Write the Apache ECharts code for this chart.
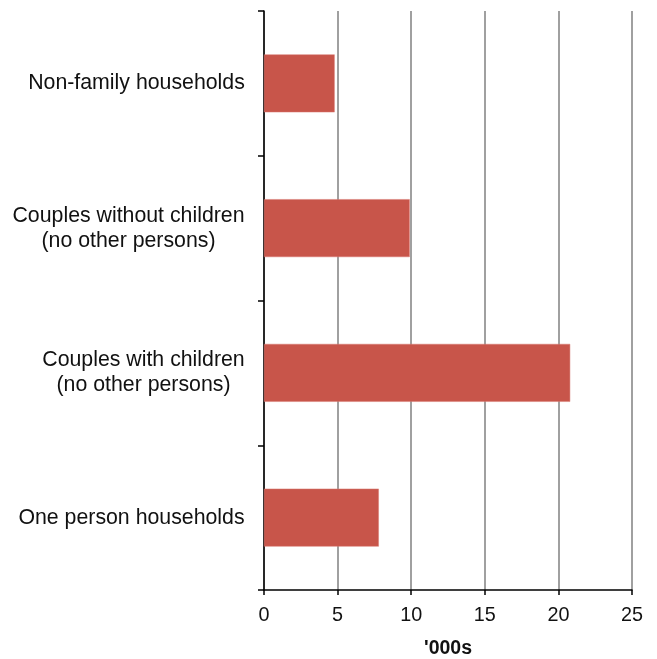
<!DOCTYPE html>
<html>
<head>
<meta charset="utf-8">
<script src="https://cdn.jsdelivr.net/npm/echarts@6/dist/echarts.min.js"></script>
<style>
html,body{margin:0;padding:0;background:#fff;}
#chart{width:657px;height:659px;}
</style>
</head>
<body>
<div id="chart"></div>
<script>
// Categories listed bottom-to-top (ECharts y category axis order)
const categories = [
  "One person households",
  "Couples with children\n(no other persons)",
  "Couples without children\n(no other persons)",
  "Non-family households"
];
const values = [7.8, 20.8, 9.9, 4.8];
const xTicks = [0, 5, 10, 15, 20, 25];
const xAxisTitle = "'000s";

const FONT = 'Liberation Sans, Arial, sans-serif';
const labelSize = 21.3;

// measure each label's widest line so lines can be centred within a right-aligned block
const cv = document.createElement('canvas').getContext('2d');
cv.font = labelSize + 'px ' + FONT;
const rich = {};
categories.forEach((c, i) => {
  const w = Math.max(...c.split('\n').map(s => cv.measureText(s).width));
  rich['l' + i] = {width: Math.ceil(w), align: 'center', fontFamily: FONT, fontSize: labelSize, color: '#111111', lineHeight: 25};
});

const chart = echarts.init(document.getElementById('chart'), null, {renderer: 'canvas'});
chart.setOption({
  animation: false,
  backgroundColor: '#ffffff',
  grid: {left: 264, right: 25, top: 11, bottom: 69, containLabel: false, outerBoundsMode: 'none'},
  xAxis: {
    type: 'value',
    min: xTicks[0],
    max: xTicks[xTicks.length - 1],
    interval: 5,
    name: xAxisTitle,
    nameLocation: 'middle',
    nameGap: 49,
    nameTextStyle: {fontFamily: FONT, fontSize: 19.5, fontWeight: 'bold', color: '#111111'},
    axisLine: {show: true, lineStyle: {color: '#000', width: 1.5}},
    axisTick: {show: true, length: 5, lineStyle: {color: '#000', width: 1.5}},
    axisLabel: {fontFamily: FONT, fontSize: 19.8, color: '#111111', margin: 16},
    splitLine: {show: true, lineStyle: {color: '#808080', width: 1.5}}
  },
  yAxis: {
    type: 'category',
    data: categories,
    axisLine: {show: true, lineStyle: {color: '#000', width: 1.5}},
    axisTick: {show: true, length: 6, lineStyle: {color: '#000', width: 1.5}},
    axisLabel: {
      margin: 19,
      align: 'right',
      formatter: function (val) {
        const i = categories.indexOf(val);
        return val.split('\n').map(s => '{l' + i + '|' + s + '}').join('\n');
      },
      rich: rich
    },
    splitLine: {show: false}
  },
  series: [{
    type: 'bar',
    data: values,
    barWidth: '40%',
    itemStyle: {color: '#C8554A', borderColor: '#D97B72', borderWidth: 0.5}
  }]
});
</script>
</body>
</html>
